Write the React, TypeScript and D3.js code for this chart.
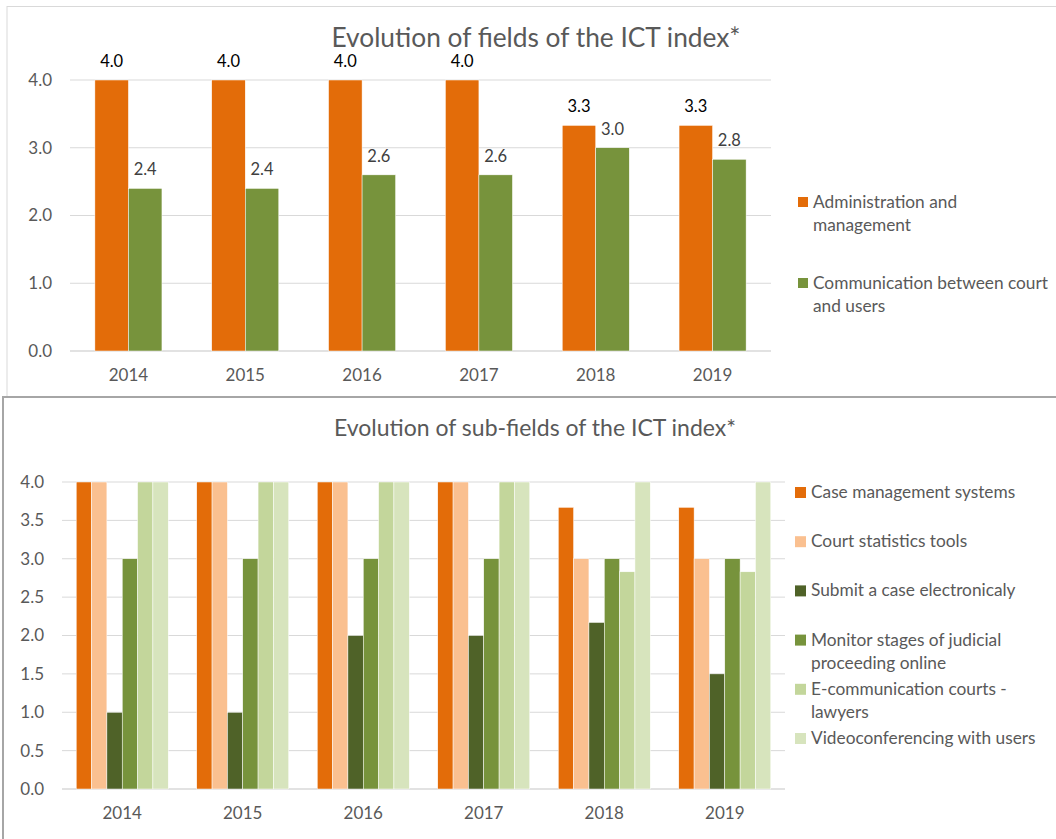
import React from "react";
import * as d3 from "d3";

const years = ["2014", "2015", "2016", "2017", "2018", "2019"];

// Top chart
const topTitle = "Evolution of fields of the ICT index*";
const topSeriesNames = ["Administration and management", "Communication between court and users"];
const topLegendLines = [["Administration and", "management"], ["Communication between court", "and users"]];
const adminValues = [4.0, 4.0, 4.0, 4.0, 3.33, 3.33];
const commValues = [2.4, 2.4, 2.6, 2.6, 3.0, 2.83];
const topTicks = [0, 1, 2, 3, 4];
const topColors = ["#E36C09", "#77933C"];
const topLabelColors = ["#000000", "#404040"];

// Bottom chart
const bottomTitle = "Evolution of sub-fields of the ICT index*";
const bottomSeriesNames = [
  "Case management systems",
  "Court statistics tools",
  "Submit a case electronicaly",
  "Monitor stages of judicial proceeding online",
  "E-communication courts - lawyers",
  "Videoconferencing with users",
];
const bottomLegendLines = [
  ["Case management systems"],
  ["Court statistics tools"],
  ["Submit a case electronicaly"],
  ["Monitor stages of judicial", "proceeding online"],
  ["E-communication courts -", "lawyers"],
  ["Videoconferencing with users"],
];
const caseMgmt = [4, 4, 4, 4, 3.67, 3.67];
const courtStats = [4, 4, 4, 4, 3.0, 3.0];
const submitCase = [1, 1, 2, 2, 2.17, 1.5];
const monitorStages = [3, 3, 3, 3, 3, 3];
const eCommunication = [4, 4, 4, 4, 2.83, 2.83];
const videoconf = [4, 4, 4, 4, 4, 4];
const bottomTicks = [0, 0.5, 1, 1.5, 2, 2.5, 3, 3.5, 4];
const bottomColors = ["#E36C09", "#FAC090", "#4F6228", "#77933C", "#C3D69B", "#D7E4BD"];

const FONT = "Lato, 'Open Sans', sans-serif";
const TXT = "#595959";
const GRID = "#d9d9d9";

export default function App() {
  const fmt = d3.format(".1f");

  // top scales
  const tx = d3.scaleBand<string>().domain(years).range([70, 771]).paddingInner(0.426).paddingOuter(0.213);
  const tSub = d3.scaleBand<number>().domain([0, 1]).range([0, tx.bandwidth()]);
  const ty = d3.scaleLinear().domain([0, 4]).range([351, 80]);
  const topSeries = [adminValues, commValues];

  // bottom scales
  const bx = d3.scaleBand<string>().domain(years).range([62, 785]).paddingInner(0.2365).paddingOuter(0.118);
  const bSeries = [caseMgmt, courtStats, submitCase, monitorStages, eCommunication, videoconf];
  const bSub = d3.scaleBand<number>().domain(d3.range(bSeries.length)).range([0, bx.bandwidth()]);
  const by = d3.scaleLinear().domain([0, 4]).range([789, 482]);

  return (
    <svg
      width={1056}
      height={839}
      style={{ position: "absolute", left: 0, top: 0, background: "#fff" }}
      fontFamily={FONT}
    >
      <rect x={0} y={0} width={1056} height={839} fill="#fff" />
      {/* top panel */}
      <rect x={7} y={6.5} width={1100} height={420} fill="#fff" stroke="#d9d9d9" strokeWidth={1} />
      <text x={536} y={47} textAnchor="middle" fontSize={26.3} fill={TXT}>
        {topTitle}
      </text>
      {topTicks.map((t) => (
        <g key={"tt" + t}>
          <line x1={70} x2={771} y1={ty(t)} y2={ty(t)} stroke={GRID} strokeWidth={t === 0 ? 1.5 : 1} />
          <text x={52} y={ty(t)} dy="0.35em" textAnchor="end" fontSize={17} fill={TXT}>
            {fmt(t)}
          </text>
        </g>
      ))}
      {years.map((yr, i) => (
        <g key={"tg" + yr}>
          {topSeries.map((s, j) => {
            const x0 = (tx(yr) as number) + (tSub(j) as number);
            const w = tSub.bandwidth();
            return (
              <g key={j}>
                <rect x={x0} y={ty(s[i])} width={w} height={ty(0) - ty(s[i])} fill={topColors[j]} stroke="#fff" strokeWidth={0.5} />
                <text x={x0 + w / 2} y={ty(s[i]) - 13} textAnchor="middle" fontSize={16.5} fill={topLabelColors[j]}>
                  {fmt(s[i])}
                </text>
              </g>
            );
          })}
          <text x={(tx(yr) as number) + tx.bandwidth() / 2} y={375} dy="0.35em" textAnchor="middle" fontSize={17} fill={TXT}>
            {yr}
          </text>
        </g>
      ))}
      {topSeriesNames.map((name, j) => (
        <g key={"tl" + name}>
          <rect x={798} y={197 + j * 81} width={10} height={10} fill={topColors[j]} />
          {topLegendLines[j].map((ln, k) => (
            <text key={k} x={813} y={202 + j * 81 + k * 23} dy="0.35em" fontSize={17.3} fill={TXT}>
              {ln}
            </text>
          ))}
        </g>
      ))}

      {/* bottom panel */}
      <rect x={3} y={397} width={1100} height={500} fill="#fff" stroke="#a6a6a6" strokeWidth={2} />
      <text x={535} y={436} textAnchor="middle" fontSize={23} fill={TXT}>
        {bottomTitle}
      </text>
      {bottomTicks.map((t) => (
        <g key={"bt" + t}>
          <line x1={62} x2={785} y1={by(t)} y2={by(t)} stroke={GRID} strokeWidth={t === 0 ? 1.5 : 1} />
          <text x={44} y={by(t)} dy="0.35em" textAnchor="end" fontSize={17} fill={TXT}>
            {fmt(t)}
          </text>
        </g>
      ))}
      {years.map((yr, i) => (
        <g key={"bg" + yr}>
          {bSeries.map((s, j) => {
            const x0 = (bx(yr) as number) + (bSub(j) as number);
            const w = bSub.bandwidth();
            return (
              <rect key={j} x={x0} y={by(s[i])} width={w} height={by(0) - by(s[i])} fill={bottomColors[j]} stroke="#fff" strokeWidth={0.5} />
            );
          })}
          <text x={(bx(yr) as number) + bx.bandwidth() / 2} y={813} dy="0.35em" textAnchor="middle" fontSize={17} fill={TXT}>
            {yr}
          </text>
        </g>
      ))}
      {bottomSeriesNames.map((name, j) => (
        <g key={"bl" + name}>
          <rect x={795} y={487 + j * 49.2} width={11} height={11} fill={bottomColors[j]} />
          {bottomLegendLines[j].map((ln, k) => (
            <text key={k} x={811} y={492 + j * 49.2 + k * 23} dy="0.35em" fontSize={17.3} fill={TXT}>
              {ln}
            </text>
          ))}
        </g>
      ))}
    </svg>
  );
}
